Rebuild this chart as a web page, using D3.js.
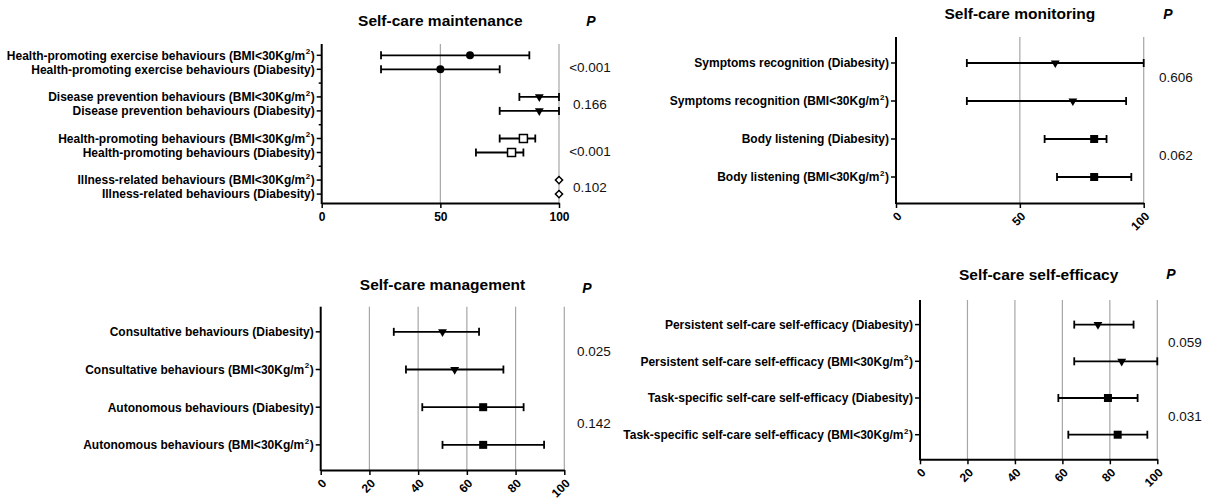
<!DOCTYPE html>
<html>
<head>
<meta charset="utf-8">
<script src="https://cdn.jsdelivr.net/npm/d3@7"></script>
<style>
  html, body { margin: 0; padding: 0; background: #fff; }
  svg { display: block; font-family: "Liberation Sans", Arial, Helvetica, sans-serif; }
</style>
</head>
<body>
<svg id="chart" width="1208" height="502"></svg>
<script>
// ---------------- DATA ----------------
// Panel 1: Self-care maintenance (grouped, two rows per group)
const maintGroups = ["Health-promoting exercise behaviours", "Disease prevention behaviours", "Health-promoting behaviours", "Illness-related behaviours"];
const maintSub = ["BMI<30Kg/m^2", "Diabesity"];
const maintMean = [[62.5, 50], [91.7, 91.7], [85, 80], [100, 100]];
const maintLow = [[25, 25], [83.3, 75], [75, 65], [100, 100]];
const maintHigh = [[87.5, 75], [100, 100], [90, 85], [100, 100]];
const maintMarker = ["circle", "triangle", "openSquare", "openDiamond"];
const maintP = ["<0.001", "0.166", "<0.001", "0.102"];
const maintTicks = [0, 50, 100];

// Panel 2: Self-care monitoring
const monLabels = ["Symptoms recognition (Diabesity)", "Symptoms recognition (BMI<30Kg/m^2)", "Body listening (Diabesity)", "Body listening (BMI<30Kg/m^2)"];
const monMean = [64.3, 71.4, 80, 80];
const monLow = [28.6, 28.6, 60, 65];
const monHigh = [100, 92.9, 85, 95];
const monMarker = ["triangle", "triangle", "square", "square"];
const monP = ["0.606", "0.062"];
const monTicks = [0, 50, 100];

// Panel 3: Self-care management
const mgmtLabels = ["Consultative behaviours (Diabesity)", "Consultative behaviours (BMI<30Kg/m^2)", "Autonomous behaviours (Diabesity)", "Autonomous behaviours (BMI<30Kg/m^2)"];
const mgmtMean = [50, 55, 66.7, 66.7];
const mgmtLow = [30, 35, 41.7, 50];
const mgmtHigh = [65, 75, 83.3, 91.7];
const mgmtMarker = ["triangle", "triangle", "square", "square"];
const mgmtP = ["0.025", "0.142"];
const mgmtTicks = [0, 20, 40, 60, 80, 100];

// Panel 4: Self-care self-efficacy
const effLabels = ["Persistent self-care self-efficacy (Diabesity)", "Persistent self-care self-efficacy (BMI<30Kg/m^2)", "Task-specific self-care self-efficacy (Diabesity)", "Task-specific self-care self-efficacy (BMI<30Kg/m^2)"];
const effMean = [75, 85, 79.2, 83.3];
const effLow = [65, 65, 58.3, 62.5];
const effHigh = [90, 100, 91.7, 95.8];
const effMarker = ["triangle", "triangle", "square", "square"];
const effP = ["0.059", "0.031"];
const effTicks = [0, 20, 40, 60, 80, 100];

const titles = ["Self-care maintenance", "Self-care monitoring", "Self-care management", "Self-care self-efficacy"];

// ---------------- DRAWING ----------------
const svg = d3.select("#chart");

function renderLabel(sel, text) {
  const parts = text.split("^");
  if (parts.length === 1) { sel.text(text); return; }
  sel.append("tspan").text(parts[0]);
  sel.append("tspan").attr("dy", -5.5).attr("font-size", 8).attr("dx", 0.5).text(parts[1].slice(0, 1));
  sel.append("tspan").attr("dy", 5.5).attr("dx", 0.5).text(parts[1].slice(1));
}

function drawMarker(g, type, cx, cy) {
  if (type === "circle") {
    g.append("circle").attr("cx", cx).attr("cy", cy).attr("r", 4).attr("fill", "#000");
  } else if (type === "triangle") {
    g.append("path").attr("d", d3.symbol(d3.symbolTriangle, 34)())
      .attr("transform", `translate(${cx},${cy}) rotate(180)`).attr("fill", "#000");
  } else if (type === "square") {
    g.append("rect").attr("x", cx - 4).attr("y", cy - 4).attr("width", 8).attr("height", 8).attr("fill", "#000");
  } else if (type === "openSquare") {
    g.append("rect").attr("x", cx - 4).attr("y", cy - 4).attr("width", 8).attr("height", 8)
      .attr("fill", "#fff").attr("stroke", "#000").attr("stroke-width", 1.5);
  } else if (type === "openDiamond") {
    g.append("path").attr("d", d3.symbol(d3.symbolSquare, 26)())
      .attr("transform", `translate(${cx},${cy}) rotate(45)`)
      .attr("fill", "#fff").attr("stroke", "#000").attr("stroke-width", 1.5);
  }
}

function drawPanel(cfg) {
  const g = svg.append("g");
  const x = d3.scaleLinear().domain([0, 100]).range(cfg.xRange);
  const rows = cfg.rows; // {label, mean, low, high, marker, y}

  // gridlines
  g.selectAll("line.grid").data(cfg.ticks.filter(t => t > 0)).join("line")
    .attr("x1", d => x(d)).attr("x2", d => x(d))
    .attr("y1", cfg.yTop).attr("y2", cfg.yBot)
    .attr("stroke", "#a6a6a6").attr("stroke-width", 1.2);

  // x axis
  const xAxis = d3.axisBottom(x).tickValues(cfg.ticks).tickSize(5).tickSizeOuter(0).tickPadding(4);
  const ax = g.append("g").attr("transform", `translate(0,${cfg.yBot})`).call(xAxis);
  ax.select(".domain").attr("stroke", "#000").attr("stroke-width", 2);
  ax.selectAll(".tick line").attr("stroke", "#000").attr("stroke-width", 1.5);
  ax.selectAll(".tick text").attr("font-size", 12).attr("font-weight", "bold")
    .attr("font-family", "'Liberation Sans', Arial, sans-serif").attr("fill", "#000");
  if (cfg.rotate) {
    ax.selectAll(".tick text")
      .attr("text-anchor", "end")
      .attr("y", 0).attr("dy", "0.35em")
      .attr("transform", "translate(3,11) rotate(-45)");
  }

  // y axis line
  g.append("line").attr("x1", cfg.xRange[0]).attr("x2", cfg.xRange[0])
    .attr("y1", cfg.yTop).attr("y2", cfg.yBot + 1).attr("stroke", "#000").attr("stroke-width", 2);

  // y ticks per row
  g.selectAll("line.ytick").data(rows).join("line")
    .attr("x1", cfg.xRange[0] - 5).attr("x2", cfg.xRange[0])
    .attr("y1", d => d.y).attr("y2", d => d.y)
    .attr("stroke", "#000").attr("stroke-width", 1.5);
  // minor ticks
  if (cfg.minorTicks) {
    g.selectAll("line.minor").data(cfg.minorTicks).join("line")
      .attr("x1", cfg.xRange[0] - 3).attr("x2", cfg.xRange[0])
      .attr("y1", d => d).attr("y2", d => d)
      .attr("stroke", "#000").attr("stroke-width", 1.5);
  }

  // labels
  rows.forEach(r => {
    const t = g.append("text").attr("x", cfg.xRange[0] - 7).attr("y", r.y).attr("dy", "0.36em")
      .attr("text-anchor", "end").attr("font-size", 12).attr("font-weight", "bold").attr("fill", "#000");
    renderLabel(t, r.label);
  });

  // error bars
  rows.forEach(r => {
    const eb = g.append("g").attr("stroke", "#000").attr("stroke-width", 1.8);
    eb.append("line").attr("x1", x(r.low)).attr("x2", x(r.high)).attr("y1", r.y).attr("y2", r.y);
    eb.append("line").attr("x1", x(r.low)).attr("x2", x(r.low)).attr("y1", r.y - 4).attr("y2", r.y + 4);
    eb.append("line").attr("x1", x(r.high)).attr("x2", x(r.high)).attr("y1", r.y - 4).attr("y2", r.y + 4);
  });
  rows.forEach(r => drawMarker(g, r.marker, x(r.mean), r.y));

  // title and P
  g.append("text").attr("x", (cfg.xRange[0] + cfg.xRange[1]) / 2).attr("y", cfg.titleY)
    .attr("text-anchor", "middle").attr("font-size", 15.5).attr("font-weight", "bold").text(cfg.title);
  g.append("text").attr("x", cfg.pX).attr("y", cfg.titleY + cfg.pDy)
    .attr("text-anchor", "middle").attr("font-size", 14).attr("font-weight", "bold")
    .attr("font-style", "italic").text("P");
  cfg.pVals.forEach(p => {
    g.append("text").attr("x", p.x).attr("y", p.y).attr("dy", "0.36em")
      .attr("text-anchor", cfg.pAnchor).attr("font-size", 13.5).attr("fill", "#111").text(p.text);
  });
}

// ---- Panel 1 (grouped band scale) ----
{
  const band = d3.scaleBand().domain(maintGroups).range([41.5, 207.9]).padding(0);
  const sub = d3.scalePoint().domain(maintSub).range([-7, 7]);
  const rows = [];
  maintGroups.forEach((gName, i) => {
    maintSub.forEach((s, j) => {
      rows.push({
        label: `${gName} (${s})`,
        mean: maintMean[i][j], low: maintLow[i][j], high: maintHigh[i][j],
        marker: maintMarker[i],
        y: band(gName) + band.bandwidth() / 2 + sub(s)
      });
    });
  });
  const pOffsets = [5, 0, 5.5, 0];
  drawPanel({
    xRange: [321.7, 559], yTop: 44, yBot: 203, ticks: maintTicks, rotate: false,
    rows,
    minorTicks: maintGroups.slice(1).map(gn => band(gn)),
    title: titles[0], titleY: 25.5, pX: 591, pDy: 0,
    pAnchor: "middle",
    pVals: maintP.map((p, i) => ({ text: p, x: 590, y: band(maintGroups[i]) + band.bandwidth() / 2 + pOffsets[i] }))
  });
}

function simplePanel(labels, mean, low, high, marker, pv, ticks, title, layout) {
  const y = d3.scalePoint().domain(labels).range([layout.yTop, layout.yBot]).padding(layout.pad);
  const rows = labels.map((l, i) => ({ label: l, mean: mean[i], low: low[i], high: high[i], marker: marker[i], y: y(l) }));
  drawPanel({
    xRange: layout.xRange, yTop: layout.yTop, yBot: layout.yBot, ticks, rotate: true, rows,
    title, titleY: layout.titleY, pX: layout.pX, pDy: layout.pDy, pAnchor: "start",
    pVals: pv.map((p, i) => ({ text: p, x: layout.pValX, y: (y(labels[2 * i]) + y(labels[2 * i + 1])) / 2 + layout.pValDy[i] }))
  });
}

simplePanel(monLabels, monMean, monLow, monHigh, monMarker, monP, monTicks, titles[1],
  { xRange: [896, 1143.7], yTop: 37, yBot: 203, pad: 0.684, titleY: 18.5, pX: 1168, pDy: 0, pValX: 1159, pValDy: [-5, -3] });
simplePanel(mgmtLabels, mgmtMean, mgmtLow, mgmtHigh, mgmtMarker, mgmtP, mgmtTicks, titles[2],
  { xRange: [320.7, 564.3], yTop: 306.7, yBot: 470, pad: 0.667, titleY: 289.5, pX: 587, pDy: 3, pValX: 577, pValDy: [0, -3] });
simplePanel(effLabels, effMean, effLow, effHigh, effMarker, effP, effTicks, titles[3],
  { xRange: [920, 1157.3], yTop: 300, yBot: 459.3, pad: 0.67, titleY: 279.5, pX: 1171, pDy: -1, pValX: 1168, pValDy: [-1, 0] });
</script>
</body>
</html>
